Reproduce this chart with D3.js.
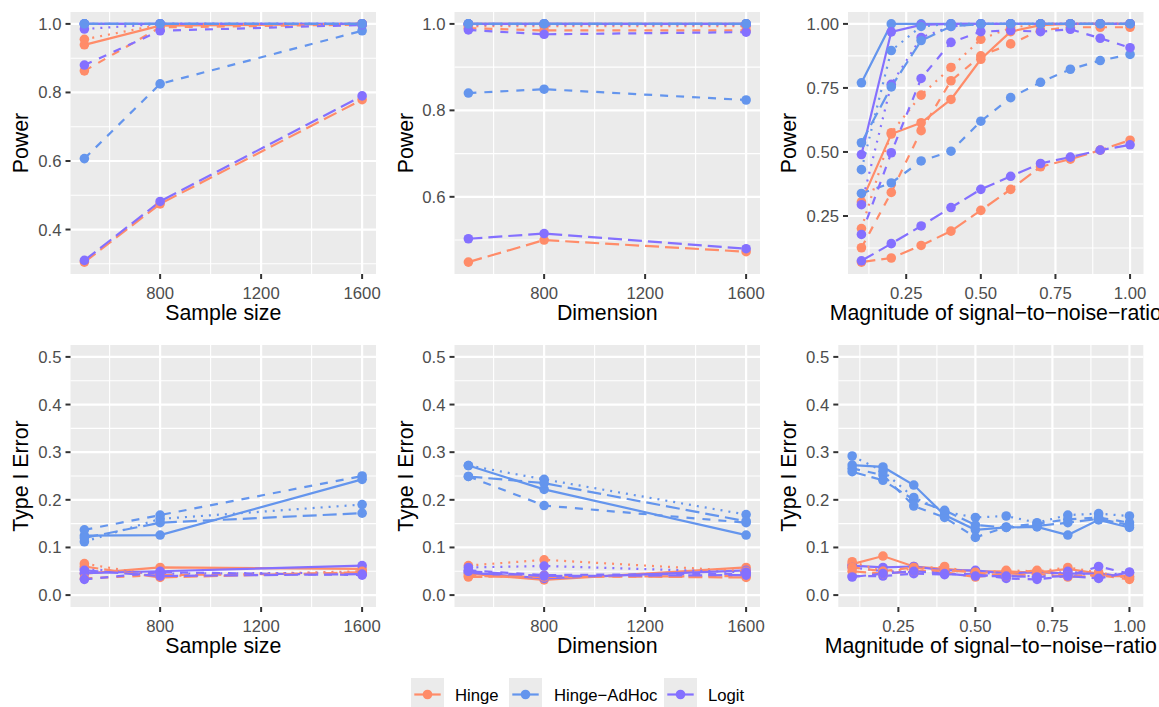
<!DOCTYPE html>
<html><head><meta charset="utf-8">
<script src="https://cdn.jsdelivr.net/npm/d3@7/dist/d3.min.js"></script>
<style>
body{margin:0;background:#fff;}
text{font-family:"Liberation Sans",Arial,Helvetica,sans-serif;}
</style></head>
<body><svg id="chart" width="1159" height="707"></svg>
<script>
// ---------- data ----------
const methods = ["Hinge", "Hinge\u2212AdHoc", "Logit"];
const methodColors = ["#FF8C69", "#6495ED", "#8470FF"];
const settingLinetypes = ["solid", "dotted", "dashed", "longdash"];

const sampleSizes = [500, 800, 1600];
const dimensions = [500, 800, 1600];
const snrLevels = [0.1, 0.2, 0.3, 0.4, 0.5, 0.6, 0.7, 0.8, 0.9, 1.0];

// Power vs sample size: [method][setting][x]
const powerSampleHinge  = [[0.939,0.995,1.0],[0.955,0.998,1.0],[0.863,0.990,0.998],[0.305,0.475,0.779]];
const powerSampleAdHoc  = [[1.0,1.0,1.0],[1.0,1.0,1.0],[0.607,0.825,0.980],[1.0,1.0,1.0]];
const powerSampleLogit  = [[1.0,1.0,1.0],[0.985,1.0,1.0],[0.880,0.980,0.997],[0.310,0.482,0.790]];

// Power vs dimension
const powerDimHinge = [[1.0,1.0,1.0],[0.995,0.995,0.995],[0.990,0.985,0.985],[0.449,0.500,0.473]];
const powerDimAdHoc = [[1.0,1.0,1.0],[1.0,1.0,1.0],[0.840,0.849,0.824],[1.0,1.0,1.0]];
const powerDimLogit = [[1.0,1.0,1.0],[0.998,0.998,0.998],[0.986,0.976,0.981],[0.503,0.515,0.480]];

// Power vs SNR
const powerSnrHinge = [
  [0.305,0.570,0.614,0.705,0.862,0.970,0.995,1.0,1.0,1.0],
  [0.201,0.575,0.722,0.830,0.940,0.985,1.0,1.0,1.0,1.0],
  [0.126,0.342,0.583,0.778,0.875,0.922,0.975,0.987,0.987,0.987],
  [0.070,0.086,0.135,0.191,0.272,0.354,0.442,0.472,0.507,0.546]];
const powerSnrAdHoc = [
  [0.770,1.0,1.0,1.0,1.0,1.0,1.0,1.0,1.0,1.0],
  [0.431,0.896,0.990,1.0,1.0,1.0,1.0,1.0,1.0,1.0],
  [0.338,0.379,0.465,0.503,0.620,0.712,0.772,0.823,0.857,0.881],
  [0.536,0.754,0.935,0.990,1.0,1.0,1.0,1.0,1.0,1.0]];
const powerSnrLogit = [
  [0.490,0.969,0.996,1.0,1.0,1.0,1.0,1.0,1.0,1.0],
  [0.294,0.764,0.947,0.990,1.0,1.0,1.0,1.0,1.0,1.0],
  [0.178,0.497,0.787,0.928,0.970,0.974,0.970,0.979,0.944,0.907],
  [0.075,0.142,0.211,0.283,0.354,0.405,0.455,0.480,0.507,0.528]];

// Type I error vs sample size
const errSampleHinge = [[0.045,0.058,0.055],[0.066,0.040,0.050],[0.035,0.042,0.046],[0.060,0.037,0.048]];
const errSampleAdHoc = [[0.125,0.126,0.243],[0.112,0.160,0.190],[0.137,0.168,0.250],[0.120,0.152,0.172]];
const errSampleLogit = [[0.046,0.050,0.062],[0.055,0.045,0.047],[0.033,0.048,0.042],[0.052,0.040,0.044]];

// Type I error vs dimension
const errDimHinge = [[0.045,0.032,0.058],[0.062,0.074,0.050],[0.040,0.038,0.040],[0.038,0.040,0.037]];
const errDimAdHoc = [[0.272,0.222,0.126],[0.272,0.243,0.169],[0.249,0.188,0.152],[0.249,0.235,0.155]];
const errDimLogit = [[0.047,0.035,0.052],[0.058,0.061,0.048],[0.052,0.042,0.045],[0.050,0.040,0.042]];

// Type I error vs SNR
const errSnrHinge = [
  [0.065,0.082,0.060,0.055,0.050,0.050,0.047,0.055,0.045,0.038],
  [0.070,0.050,0.055,0.060,0.045,0.052,0.050,0.058,0.048,0.035],
  [0.058,0.050,0.058,0.048,0.038,0.045,0.052,0.040,0.042,0.033],
  [0.050,0.045,0.050,0.052,0.048,0.040,0.045,0.038,0.040,0.040]];
const errSnrAdHoc = [
  [0.273,0.269,0.231,0.168,0.137,0.142,0.143,0.126,0.158,0.142],
  [0.292,0.260,0.205,0.175,0.163,0.166,0.152,0.168,0.171,0.166],
  [0.266,0.252,0.187,0.163,0.121,0.143,0.150,0.159,0.163,0.152],
  [0.259,0.241,0.200,0.178,0.147,0.142,0.145,0.152,0.160,0.147]];
const errSnrLogit = [
  [0.062,0.058,0.060,0.052,0.052,0.045,0.048,0.045,0.045,0.038],
  [0.058,0.050,0.048,0.050,0.050,0.040,0.040,0.050,0.040,0.048],
  [0.040,0.040,0.045,0.043,0.045,0.035,0.033,0.040,0.060,0.045],
  [0.038,0.045,0.050,0.045,0.040,0.040,0.038,0.040,0.035,0.048]];

// tick labels
const countTicks = [800, 1200, 1600];
const snrTicks = [0.25, 0.50, 0.75, 1.00];
const powerSampleTicks = [0.4, 0.6, 0.8, 1.0];
const powerDimTicks = [0.6, 0.8, 1.0];
const powerSnrTicks = [0.25, 0.50, 0.75, 1.00];
const errTicks = [0.0, 0.1, 0.2, 0.3, 0.4, 0.5];
const errLimits = [0, 0.5];

// ---------- layout ----------
const svg = d3.select("#chart");
const dashes = {solid: null, dotted: "2,6", dashed: "8,8", longdash: "14,6"};
const LW = 2.2, PR = 4.8;
const tickFont = 16.7, titleFont = 21.3;

function expand(ext){ const d = ext[1]-ext[0]; return [ext[0]-0.05*d, ext[1]+0.05*d]; }

const panels = [
  {x0:70.5, x1:376, y0:12, y1:274, xv:sampleSizes, xticks:countTicks, xfmt:d3.format("d"),
   series:[powerSampleHinge,powerSampleAdHoc,powerSampleLogit], yticks:powerSampleTicks, yfmt:d3.format(".1f"),
   xtitle:"Sample size", ytitle:"Power", ytx:20.5},
  {x0:454.5, x1:760, y0:12, y1:274, xv:dimensions, xticks:countTicks, xfmt:d3.format("d"),
   series:[powerDimHinge,powerDimAdHoc,powerDimLogit], yticks:powerDimTicks, yfmt:d3.format(".1f"),
   xtitle:"Dimension", ytitle:"Power", ytx:405.5},
  {x0:848, x1:1143.5, y0:12, y1:274, xv:snrLevels, xticks:snrTicks, xfmt:d3.format(".2f"),
   series:[powerSnrHinge,powerSnrAdHoc,powerSnrLogit], yticks:powerSnrTicks, yfmt:d3.format(".2f"),
   xtitle:"Magnitude of signal\u2212to\u2212noise\u2212ratio", ytitle:"Power", ytx:788},
  {x0:70.5, x1:376, y0:345, y1:607, xv:sampleSizes, xticks:countTicks, xfmt:d3.format("d"),
   series:[errSampleHinge,errSampleAdHoc,errSampleLogit], yticks:errTicks, yfmt:d3.format(".1f"), ylim:errLimits,
   xtitle:"Sample size", ytitle:"Type I Error", ytx:20.5},
  {x0:454.5, x1:760, y0:345, y1:607, xv:dimensions, xticks:countTicks, xfmt:d3.format("d"),
   series:[errDimHinge,errDimAdHoc,errDimLogit], yticks:errTicks, yfmt:d3.format(".1f"), ylim:errLimits,
   xtitle:"Dimension", ytitle:"Type I Error", ytx:405.5},
  {x0:838.3, x1:1143.3, y0:345, y1:607, xv:snrLevels, xticks:snrTicks, xfmt:d3.format(".2f"),
   series:[errSnrHinge,errSnrAdHoc,errSnrLogit], yticks:errTicks, yfmt:d3.format(".1f"), ylim:errLimits,
   xtitle:"Magnitude of signal\u2212to\u2212noise\u2212ratio", ytitle:"Type I Error", ytx:788}
];

function minors(ticks, dom){
  const step = ticks[1]-ticks[0];
  const out = [];
  for (let v = ticks[0]-step/2; v <= dom[1]+1e-9; v += step) if (v >= dom[0]-1e-9) out.push(v);
  return out;
}

panels.forEach((p, pi) => {
  const xDom = expand(d3.extent(p.xv));
  let yDom;
  if (p.ylim) yDom = expand(p.ylim);
  else yDom = expand(d3.extent(p.series.flat(2)));
  const x = d3.scaleLinear().domain(xDom).range([p.x0, p.x1]);
  const y = d3.scaleLinear().domain(yDom).range([p.y1, p.y0]);
  const g = svg.append("g");
  const cid = "clip" + pi;
  svg.append("clipPath").attr("id", cid).append("rect")
    .attr("x", p.x0).attr("y", p.y0).attr("width", p.x1-p.x0).attr("height", p.y1-p.y0);
  g.append("rect").attr("x", p.x0).attr("y", p.y0).attr("width", p.x1-p.x0).attr("height", p.y1-p.y0)
    .attr("fill", "#EBEBEB");
  // grid
  const gx = g.append("g");
  minors(p.xticks, xDom).forEach(v => gx.append("line").attr("x1", x(v)).attr("x2", x(v)).attr("y1", p.y0).attr("y2", p.y1)
    .attr("stroke", "#fff").attr("stroke-width", 1.1));
  minors(p.yticks, yDom).forEach(v => gx.append("line").attr("y1", y(v)).attr("y2", y(v)).attr("x1", p.x0).attr("x2", p.x1)
    .attr("stroke", "#fff").attr("stroke-width", 1.1));
  p.xticks.forEach(v => gx.append("line").attr("x1", x(v)).attr("x2", x(v)).attr("y1", p.y0).attr("y2", p.y1)
    .attr("stroke", "#fff").attr("stroke-width", 2.2));
  p.yticks.forEach(v => gx.append("line").attr("y1", y(v)).attr("y2", y(v)).attr("x1", p.x0).attr("x2", p.x1)
    .attr("stroke", "#fff").attr("stroke-width", 2.2));

  // lines
  const lineGen = d3.line().x((d,i) => x(p.xv[i])).y(d => y(d));
  const plot = g.append("g").attr("clip-path", `url(#${cid})`);
  settingLinetypes.forEach((lt, si) => {
    p.series.forEach((ser, mi) => {
      plot.append("path").attr("d", lineGen(ser[si])).attr("fill", "none")
        .attr("stroke", methodColors[mi]).attr("stroke-width", LW)
        .attr("stroke-dasharray", dashes[lt]);
    });
  });
  settingLinetypes.forEach((lt, si) => {
    p.series.forEach((ser, mi) => {
      ser[si].forEach((v, i) => {
        plot.append("circle").attr("cx", x(p.xv[i])).attr("cy", y(v)).attr("r", PR)
          .attr("fill", methodColors[mi]);
      });
    });
  });

  // axes ticks
  const ax = svg.append("g");
  p.xticks.forEach(v => {
    ax.append("line").attr("x1", x(v)).attr("x2", x(v)).attr("y1", p.y1).attr("y2", p.y1+5)
      .attr("stroke", "#333").attr("stroke-width", 2);
    ax.append("text").attr("x", x(v)).attr("y", p.y1+25).attr("text-anchor", "middle")
      .attr("font-size", tickFont).attr("fill", "#4D4D4D").text(p.xfmt(v));
  });
  p.yticks.forEach(v => {
    ax.append("line").attr("x1", p.x0-5).attr("x2", p.x0).attr("y1", y(v)).attr("y2", y(v))
      .attr("stroke", "#333").attr("stroke-width", 2);
    ax.append("text").attr("x", p.x0-9).attr("y", y(v)).attr("dy", "0.36em").attr("text-anchor", "end")
      .attr("font-size", tickFont).attr("fill", "#4D4D4D").text(p.yfmt(v));
  });
  ax.append("text").attr("x", (p.x0+p.x1)/2).attr("y", p.y1+46).attr("text-anchor", "middle")
    .attr("font-size", titleFont).attr("fill", "#000").text(p.xtitle);
  ax.append("text").attr("transform", `translate(${p.ytx},${(p.y0+p.y1)/2}) rotate(-90)`)
    .attr("dy", "0.36em").attr("text-anchor", "middle")
    .attr("font-size", titleFont).attr("fill", "#000").text(p.ytitle);
});

// legend
const legendX = [411, 509, 664];
const legendLabelX = [455, 554, 708];
const legCY = 694.5;
const leg = svg.append("g");
methods.forEach((m, i) => {
  leg.append("rect").attr("x", legendX[i]).attr("y", legCY-16.5).attr("width", 33).attr("height", 33).attr("fill", "#EBEBEB");
  leg.append("line").attr("x1", legendX[i]+3.3).attr("x2", legendX[i]+29.7).attr("y1", legCY).attr("y2", legCY)
    .attr("stroke", methodColors[i]).attr("stroke-width", LW);
  leg.append("circle").attr("cx", legendX[i]+16.5).attr("cy", legCY).attr("r", PR).attr("fill", methodColors[i]);
  leg.append("text").attr("x", legendLabelX[i]).attr("y", legCY).attr("dy", "0.36em")
    .attr("font-size", tickFont).attr("fill", "#000").text(m);
});
</script></body></html>
